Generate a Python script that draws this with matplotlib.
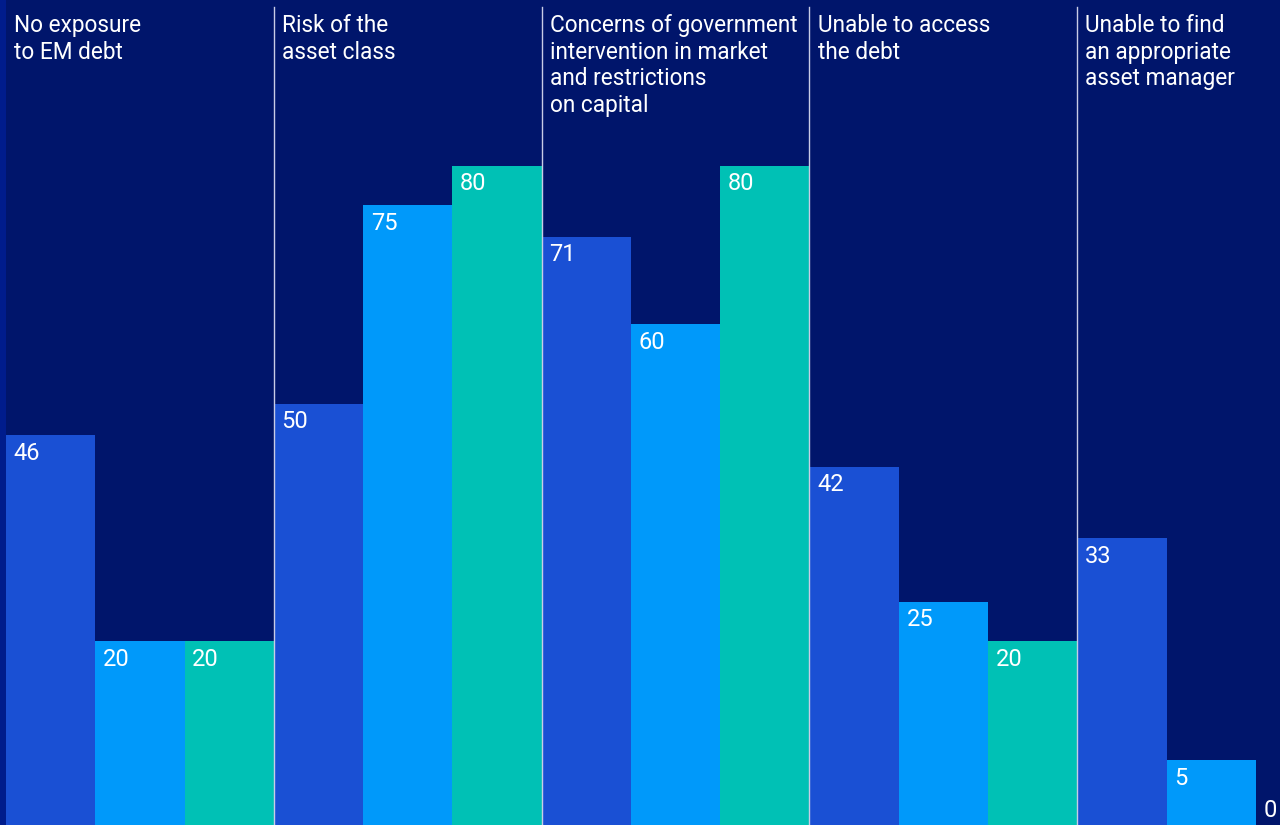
import numpy as np
import matplotlib.pyplot as plt

plt.rcParams['font.family'] = ['Roboto', 'DejaVu Sans']

categories = ['No exposure\nto EM debt',
              'Risk of the\nasset class',
              'Concerns of government\nintervention in market\nand restrictions\non capital',
              'Unable to access\nthe debt',
              'Unable to find\nan appropriate\nasset manager']
series_a = [46, 50, 71, 42, 33]
series_b = [20, 75, 60, 25, 5]
series_c = [20, 80, 80, 20, 0]

colors = ['#1a50d4', '#0099fa', '#00c1b5']
bg = '#00156b'

fig = plt.figure(figsize=(12.8, 8.25), dpi=100)
fig.patch.set_facecolor(bg)
ax = fig.add_axes([0, 0, 1, 1])
ax.set_facecolor(bg)

ymin, ymax = -3.15, 100.9
ax.set_xlim(-0.067, 14.27)
ax.set_ylim(ymin, ymax)
ax.axvspan(-0.067, 0, color='#001c8c', lw=0)

for g, (cat, vals) in enumerate(zip(categories, zip(series_a, series_b, series_c))):
    x0 = g * 3
    for i, v in enumerate(vals):
        xl = x0 + i
        if v > 0:
            ax.bar(xl, v - ymin, width=1, bottom=ymin, align='edge',
                   color=colors[i], lw=0)
            dy = -4.5
        else:
            dy = 1
        ax.annotate(str(v), (xl, v), xytext=(5.5, dy), textcoords='offset points',
                    ha='left', va='top', color='white', fontsize=17)
    ax.text(x0 + 0.09, 99.1, cat, ha='left', va='top', color='white',
            fontsize=16.3, linespacing=1.2)
    if g > 0:
        ax.plot([x0, x0], [ymin, 100.0], color='#c8cce6', lw=1)

ax.axis('off')
fig.savefig('out.png', dpi=100, facecolor=bg)
